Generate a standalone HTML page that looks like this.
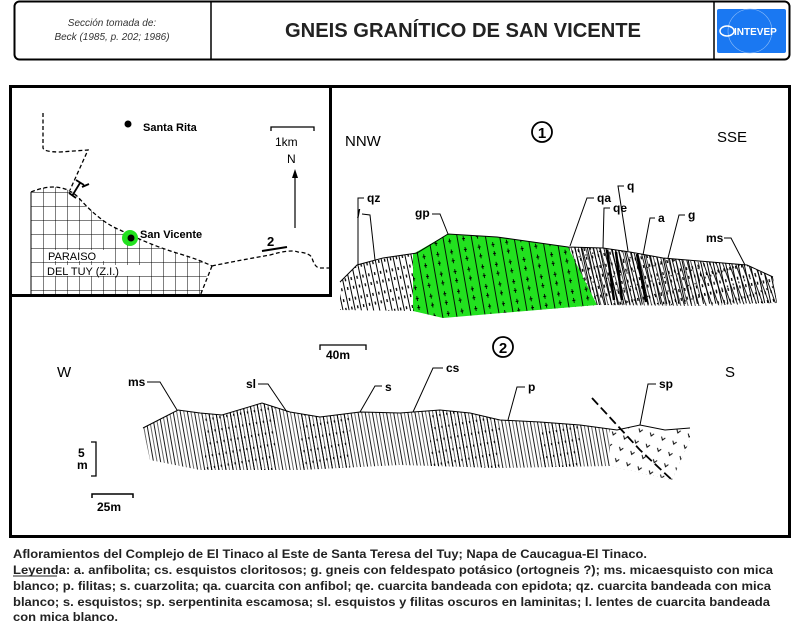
<!DOCTYPE html>
<html><head><meta charset="utf-8"><style>
html,body{margin:0;padding:0;background:#fff;}
svg{display:block;font-family:"Liberation Sans",Arial,sans-serif;}
</style></head><body>
<svg width="800" height="631" viewBox="0 0 800 631" xmlns="http://www.w3.org/2000/svg">
<defs>
<pattern id="h1" width="6" height="20" patternUnits="userSpaceOnUse" patternTransform="rotate(-12)">
<line x1="1" y1="0" x2="1" y2="20" stroke="#000" stroke-width="1"/>
<rect x="3" y="4" width="1.3" height="3" fill="#000"/><rect x="3.5" y="13" width="1.3" height="3" fill="#000"/>
</pattern>
<pattern id="h2" width="7" height="14" patternUnits="userSpaceOnUse" patternTransform="rotate(-15)">
<line x1="1" y1="0" x2="1" y2="14" stroke="#000" stroke-width="0.9"/>
<line x1="4.5" y1="0" x2="4.5" y2="14" stroke="#000" stroke-width="0.7"/>
<circle cx="3" cy="6" r="0.7" fill="#000"/>
</pattern>
<pattern id="g1" width="14" height="20" patternUnits="userSpaceOnUse" patternTransform="rotate(-10)">
<rect width="14" height="20" fill="#22e11f"/>
<line x1="3" y1="0" x2="3" y2="20" stroke="#000" stroke-width="0.9"/>
<path d="M9 4v5M7.5 6.5h3M9 13v5M7.5 15.5h3" stroke="#000" stroke-width="0.9"/>
</pattern>
<pattern id="h3" width="6" height="16" patternUnits="userSpaceOnUse" patternTransform="rotate(-20)">
<line x1="1" y1="0" x2="1" y2="16" stroke="#000" stroke-width="0.9"/>
<rect x="3.2" y="5" width="1" height="2" fill="#000"/>
</pattern>
<pattern id="s2" width="7" height="60" patternUnits="userSpaceOnUse" patternTransform="rotate(-10)">
<line x1="1" y1="0" x2="1" y2="60" stroke="#000" stroke-width="0.9"/>
<line x1="4.5" y1="0" x2="4.5" y2="60" stroke="#000" stroke-width="0.6"/>
</pattern>
<pattern id="s3" width="7" height="12" patternUnits="userSpaceOnUse" patternTransform="rotate(-10)">
<line x1="1" y1="0" x2="1" y2="12" stroke="#000" stroke-width="0.9"/>
<rect x="3.5" y="4" width="1.2" height="2.2" fill="#000"/>
</pattern>
<pattern id="grid" width="12" height="14" patternUnits="userSpaceOnUse" x="31" y="192">
<path d="M0 0V14M0 0H12" stroke="#000" stroke-width="1" fill="none"/>
</pattern>
<pattern id="vv" width="12" height="12" patternUnits="userSpaceOnUse" patternTransform="rotate(20)">
<path d="M3 4l2 3 2-3" stroke="#000" stroke-width="1" fill="none"/>
</pattern>
<clipPath id="c2"><path d="M143 428 L178 410 L200 413 L222 415 L262 403 L290 412 L320 417 L360 412 L400 413 L440 410 L470 413 L500 420 L540 422 L580 425 L617 430 L640 425 L665 430 L690 428 L690 440 L672 480 L610 466 L500 468 L400 465 L300 470 L200 470 L150 460 Z"/></clipPath>
</defs>

<!-- header -->
<rect x="14.5" y="1.5" width="775" height="58" rx="5" fill="#fff" stroke="#000" stroke-width="2"/>
<line x1="211" y1="1" x2="211" y2="60" stroke="#000" stroke-width="1.5"/>
<line x1="714" y1="1" x2="714" y2="60" stroke="#000" stroke-width="1.5"/>
<text x="112" y="26" font-size="10" font-style="italic" text-anchor="middle" fill="#333">Sección tomada de:</text>
<text x="112" y="40" font-size="10" font-style="italic" text-anchor="middle" fill="#333">Beck (1985, p. 202; 1986)</text>
<text x="463" y="37" font-size="20" font-weight="bold" text-anchor="middle" fill="#222" textLength="356" lengthAdjust="spacingAndGlyphs">GNEIS GRANÍTICO DE SAN VICENTE</text>
<rect x="717" y="9" width="69" height="44" rx="2" fill="#1a78f2"/>
<circle cx="750" cy="31" r="22" fill="none" stroke="#8cbcf8" stroke-width="0.6"/>
<ellipse cx="727" cy="31" rx="7" ry="5" fill="none" stroke="#fff" stroke-width="1.5"/>
<text x="734" y="35" font-size="10" font-weight="bold" fill="#fff">INTEVEP</text>

<!-- main frame -->
<rect x="10.5" y="86.5" width="779" height="450" fill="none" stroke="#000" stroke-width="3"/>
<rect x="10.5" y="86.5" width="320" height="209" fill="none" stroke="#000" stroke-width="3"/>

<!-- map -->
<path d="M31 192 Q60 180 78 197 Q100 222 120 230 Q150 245 180 254 Q200 260 210 266 L200 296 L31 296 Z" fill="url(#grid)"/>
<path d="M31 192 V296" stroke="#000" stroke-width="1"/>
<path d="M43 113 L43 148 Q44 152 60 152 L88 150 L70 190 M31 192 Q60 180 78 197 Q100 222 120 230 Q150 245 180 254 Q200 260 212 266 M212 266 L200 296 M212 266 Q230 262 270 255 Q290 249 298 252 Q310 253 312 258 Q315 268 320 268 L330 268" fill="none" stroke="#000" stroke-width="1.3" stroke-dasharray="4,2.5"/>
<path d="M72 196 L80 183 M69 193 L76 198 M76 180 L84 185 M82 187 L89 184" stroke="#000" stroke-width="1.8"/>
<circle cx="128" cy="124" r="3.5" fill="#000"/>
<text x="143" y="131" font-size="11" font-weight="bold" fill="#000">Santa Rita</text>
<path d="M271 131 V127 H314 V131" fill="none" stroke="#000" stroke-width="1.3"/>
<text x="275" y="146" font-size="12" fill="#000">1km</text>
<text x="287" y="163" font-size="12" fill="#000">N</text>
<line x1="295" y1="228" x2="295" y2="172" stroke="#000" stroke-width="1.2"/>
<path d="M292 178 L295 169 L298 178 Z" fill="#000"/>
<circle cx="130" cy="238" r="8" fill="#22e11f"/>
<circle cx="131" cy="238" r="3.5" fill="#000"/>
<text x="140" y="238" font-size="11" font-weight="bold" fill="#000">San Vicente</text>
<rect x="46" y="250" width="60" height="11" fill="#fff"/>
<text x="48" y="260" font-size="11" fill="#000">PARAISO</text>
<rect x="45" y="265" width="105" height="11" fill="#fff"/>
<text x="47" y="275" font-size="11" fill="#000">DEL  TUY (Z.I.)</text>
<text x="267" y="246" font-size="13" font-weight="bold" fill="#000">2</text>
<line x1="262" y1="251" x2="287" y2="247" stroke="#000" stroke-width="2"/>

<!-- section 1 -->
<text x="345" y="146" font-size="15" fill="#000">NNW</text>
<circle cx="542" cy="132" r="10" fill="none" stroke="#000" stroke-width="1.8"/>
<text x="542" y="138" font-size="15" font-weight="bold" text-anchor="middle" fill="#000">1</text>
<text x="717" y="142" font-size="15" fill="#000">SSE</text>
<path d="M340 282 L357 265 L383 258 L417 253 L448 234 L497 237 L568 247 L603 248 L630 252 L663 258 L747 265 L773 277 L777 303 L600 305 L443 317 L413 311 L340 310 Z" fill="url(#h1)"/>
<path d="M568 247 L603 248 L630 252 L663 258 L700 262 L700 306 L597 305 Z" fill="url(#h2)"/>
<path d="M700 262 L747 265 L773 277 L777 303 L700 306 Z" fill="url(#h3)"/>
<path d="M413 254 L448 234 L497 237 L568 247 L597 305 L443 318 L413 311 Z" fill="url(#g1)"/>
<path d="M340 282 L357 265 L383 258 L417 253 L448 234 L497 237 L568 247 L603 248 L630 252 L663 258 L747 265 L773 277" fill="none" stroke="#000" stroke-width="1"/>
<path d="M607 250 L614 300 M637 254 L646 302 M616 252 L622 300" stroke="#000" stroke-width="2.5"/>
<g font-size="12" font-weight="bold" fill="#000">
<text x="367" y="202">qz</text><path d="M364 198 H358 V265" fill="none" stroke="#000"/>
<text x="357" y="218">/</text><path d="M362 214 L370 215 L375 260" fill="none" stroke="#000"/>
<text x="415" y="217">gp</text><path d="M432 214 H440 L448 234" fill="none" stroke="#000"/>
<text x="597" y="202">qa</text><path d="M594 198 H587 L570 246" fill="none" stroke="#000"/>
<text x="627" y="190">q</text><path d="M624 186 H618 L628 251" fill="none" stroke="#000"/>
<text x="613" y="212">qe</text><path d="M610 208 H604 L603 248" fill="none" stroke="#000"/>
<text x="658" y="222">a</text><path d="M655 218 H650 L643 255" fill="none" stroke="#000"/>
<text x="688" y="219">g</text><path d="M685 215 H679 L668 258" fill="none" stroke="#000"/>
<text x="706" y="242">ms</text><path d="M724 238 H731 L745 265" fill="none" stroke="#000"/>
</g>

<!-- section 2 -->
<text x="57" y="377" font-size="15" fill="#000">W</text>
<text x="725" y="377" font-size="15" fill="#000">S</text>
<circle cx="503" cy="347" r="10" fill="none" stroke="#000" stroke-width="1.8"/>
<text x="503" y="353" font-size="15" font-weight="bold" text-anchor="middle" fill="#000">2</text>
<path d="M320 350 V345 H366 V350" fill="none" stroke="#000" stroke-width="1.3"/>
<text x="326" y="359" font-size="12" font-weight="bold" fill="#000">40m</text>
<g clip-path="url(#c2)">
<rect x="140" y="395" width="560" height="90" fill="url(#s2)"/>
<rect x="205" y="395" width="70" height="90" fill="url(#s3)"/>
<rect x="300" y="395" width="50" height="90" fill="url(#s3)"/>
<rect x="430" y="395" width="70" height="90" fill="url(#s3)"/>
<rect x="540" y="395" width="40" height="90" fill="url(#s3)"/>
<rect x="610" y="395" width="90" height="90" fill="#fff"/>
<rect x="610" y="395" width="90" height="90" fill="url(#vv)"/>
</g>
<path d="M143 428 L178 410 L200 413 L222 415 L262 403 L290 412 L320 417 L360 412 L400 413 L440 410 L470 413 L500 420 L540 422 L580 425 L617 430 L640 425 L665 430 L690 428" fill="none" stroke="#000" stroke-width="1"/>
<path d="M592 398 L640 450 L672 480" fill="none" stroke="#000" stroke-width="1.8" stroke-dasharray="9,4"/>
<g font-size="12" font-weight="bold" fill="#000">
<text x="128" y="386">ms</text><path d="M147 382 H160 L177 410" fill="none" stroke="#000"/>
<text x="246" y="388">sl</text><path d="M258 384 H268 L287 412" fill="none" stroke="#000"/>
<text x="385" y="391">s</text><path d="M382 386 H375 L360 412" fill="none" stroke="#000"/>
<text x="446" y="372">cs</text><path d="M443 368 H433 L413 412" fill="none" stroke="#000"/>
<text x="528" y="391">p</text><path d="M525 387 H517 L508 420" fill="none" stroke="#000"/>
<text x="659" y="388">sp</text><path d="M656 384 H648 L640 425" fill="none" stroke="#000"/>
</g>
<path d="M91 442 H96 V476 H91" fill="none" stroke="#000" stroke-width="1.3"/>
<text x="78" y="457" font-size="12" font-weight="bold" fill="#000">5</text>
<text x="77" y="469" font-size="12" font-weight="bold" fill="#000">m</text>
<path d="M92 498 V494 H133 V498" fill="none" stroke="#000" stroke-width="1.5"/>
<text x="97" y="511" font-size="12" font-weight="bold" fill="#000">25m</text>

<!-- legend -->
<g font-size="11.5" font-weight="bold" fill="#222">
<text x="13" y="558" textLength="634" lengthAdjust="spacingAndGlyphs">Afloramientos del Complejo de El Tinaco al Este de Santa Teresa del Tuy; Napa de Caucagua-El Tinaco.</text>
<text x="13" y="574" textLength="760" lengthAdjust="spacingAndGlyphs">Leyenda: a. anfibolita; cs. esquistos cloritosos; g. gneis con feldespato potásico (ortogneis ?); ms. micaesquisto con mica</text>
<text x="13" y="590" textLength="758" lengthAdjust="spacingAndGlyphs">blanco; p. filitas; s. cuarzolita; qa. cuarcita con anfibol; qe. cuarcita bandeada con epidota; qz. cuarcita bandeada con mica</text>
<text x="13" y="606" textLength="757" lengthAdjust="spacingAndGlyphs">blanco; s. esquistos; sp. serpentinita escamosa; sl. esquistos y filitas oscuros en laminitas; l. lentes de cuarcita bandeada</text>
<text x="13" y="621" textLength="105" lengthAdjust="spacingAndGlyphs">con mica blanco.</text>
</g>
<line x1="13" y1="576" x2="57" y2="576" stroke="#222" stroke-width="1"/>
</svg>
</body></html>
